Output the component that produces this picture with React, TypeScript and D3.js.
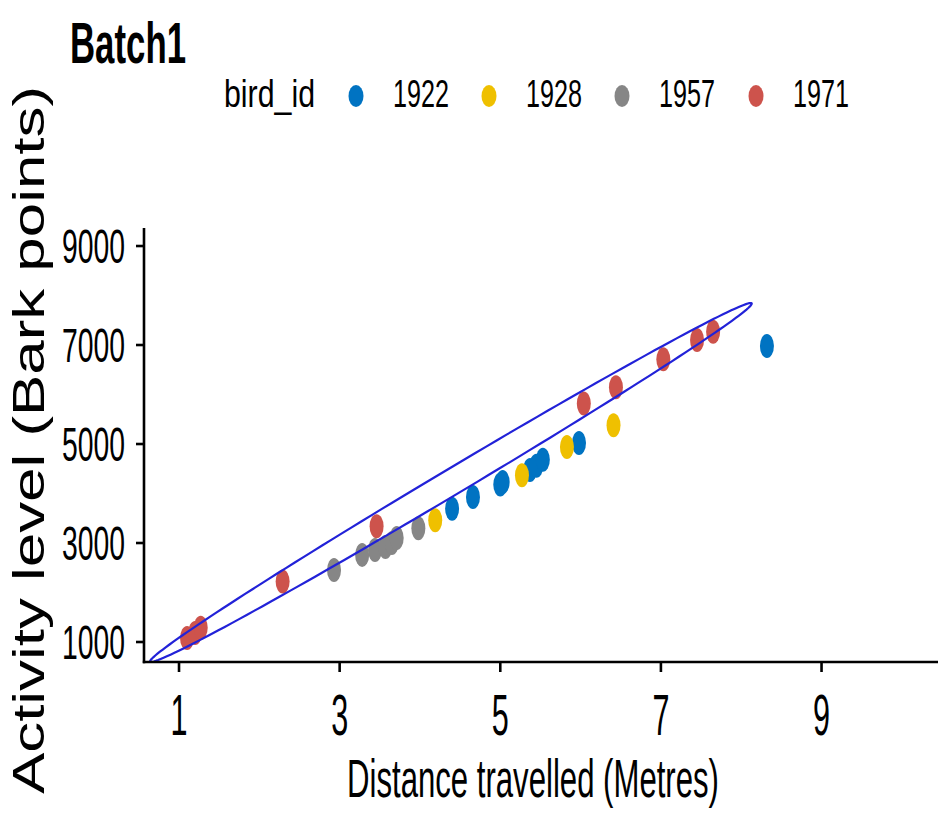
import React from "react";
import * as d3 from "d3";

const birdIds = ["1922", "1928", "1957", "1971"];
const birdColors = ["#0073C2", "#EFC000", "#868686", "#CD534C"];

const distance1922 = [4.40, 4.66, 5.0, 5.03, 5.37, 5.45, 5.53, 5.98, 8.32];
const activity1922 = [3690, 3930, 4180, 4230, 4475, 4560, 4680, 5020, 6980];
const distance1928 = [4.19, 5.27, 5.83, 6.41];
const activity1928 = [3460, 4370, 4940, 5380];
const distance1957 = [2.93, 3.28, 3.44, 3.57, 3.65, 3.71, 3.98];
const activity1957 = [2455, 2760, 2860, 2920, 3000, 3100, 3300];
const distance1971 = [1.10, 1.20, 1.27, 2.29, 3.46, 6.04, 6.44, 7.03, 7.45, 7.65];
const activity1971 = [1080, 1180, 1290, 2220, 3340, 5820, 6145, 6710, 7100, 7270];

const xTicks = [1, 3, 5, 7, 9];
const yTicks = [1000, 3000, 5000, 7000, 9000];

// ellipse (data units): centre, semi-major vector, semi-minor vector
const ellipseCenter = [4.385, 4222];
const ellipseMajor = [3.745, 3620];
const ellipseMinor = [0.082, -224];

const title = "Batch1";
const legendTitle = "bird_id";
const xTitle = "Distance travelled (Metres)";
const yTitle = "Activity level (Bark points)";

const series = [
  { id: birdIds[0], xs: distance1922, ys: activity1922, color: birdColors[0] },
  { id: birdIds[1], xs: distance1928, ys: activity1928, color: birdColors[1] },
  { id: birdIds[2], xs: distance1957, ys: activity1957, color: birdColors[2] },
  { id: birdIds[3], xs: distance1971, ys: activity1971, color: birdColors[3] },
];

const W = 938;
const H = 818;
const panel = { left: 144, right: 938, top: 228, bottom: 662 };
const FONT = "'Liberation Sans', Arial, sans-serif";

export default function App() {
  const x = d3.scaleLinear().domain([0.564, 10.45]).range([panel.left, panel.right]);
  const y = d3.scaleLinear().domain([596, 9364]).range([panel.bottom, panel.top]);

  const ellipsePts: [number, number][] = d3.range(0, 361, 2).map((deg) => {
    const t = (deg * Math.PI) / 180;
    const vx = ellipseCenter[0] + ellipseMajor[0] * Math.cos(t) + ellipseMinor[0] * Math.sin(t);
    const vy = ellipseCenter[1] + ellipseMajor[1] * Math.cos(t) + ellipseMinor[1] * Math.sin(t);
    return [x(vx), y(vy)];
  });
  const ellipsePath = d3.line().curve(d3.curveLinearClosed)(ellipsePts) || "";

  const legendDotX = [356, 489, 622, 756];

  return (
    <svg width={W} height={H} style={{ position: "absolute", left: 0, top: 0, background: "#fff" }}>
      <defs>
        <clipPath id="panelClip">
          <rect x={panel.left} y={panel.top - 20} width={panel.right - panel.left} height={panel.bottom - panel.top + 20} />
        </clipPath>
      </defs>
      <rect x={0} y={0} width={W} height={H} fill="#fff" />

      {/* title */}
      <text x={70} y={63} fontFamily={FONT} fontWeight="bold" fontSize={58} textLength={116} lengthAdjust="spacingAndGlyphs" fill="#000">
        {title}
      </text>

      {/* legend */}
      <text x={224} y={107} fontFamily={FONT} fontSize={38} textLength={91} lengthAdjust="spacingAndGlyphs" fill="#000">
        {legendTitle}
      </text>
      {series.map((s, i) => (
        <g key={s.id}>
          <ellipse cx={legendDotX[i]} cy={96} rx={7.5} ry={11} fill={s.color} />
          <text x={legendDotX[i] + 37} y={107} fontFamily={FONT} fontSize={38} textLength={56} lengthAdjust="spacingAndGlyphs" fill="#000">
            {s.id}
          </text>
        </g>
      ))}

      {/* points */}
      <g clipPath="url(#panelClip)">
        {series.map((s) =>
          s.xs.map((v, j) => (
            <ellipse key={s.id + "-" + j} cx={x(v)} cy={y(s.ys[j])} rx={7} ry={12} fill={s.color} />
          ))
        )}
        <path d={ellipsePath} fill="none" stroke="#2222D8" strokeWidth={2.2} />
      </g>

      {/* axes */}
      <line x1={panel.left} x2={panel.left} y1={panel.top} y2={panel.bottom + 1.2} stroke="#000" strokeWidth={2.6} />
      <line x1={panel.left - 1.2} x2={panel.right} y1={panel.bottom} y2={panel.bottom} stroke="#000" strokeWidth={2.6} />

      {yTicks.map((t) => (
        <g key={"y" + t}>
          <line x1={panel.left - 8} x2={panel.left} y1={y(t)} y2={y(t)} stroke="#000" strokeWidth={2.6} />
          <text x={125} y={y(t) + 17} textAnchor="end" fontFamily={FONT} fontSize={48} textLength={63} lengthAdjust="spacingAndGlyphs" fill="#000">
            {String(t)}
          </text>
        </g>
      ))}
      {xTicks.map((t) => (
        <g key={"x" + t}>
          <line x1={x(t)} x2={x(t)} y1={panel.bottom} y2={panel.bottom + 10} stroke="#000" strokeWidth={2.6} />
          <text x={x(t)} y={735} textAnchor="middle" fontFamily={FONT} fontSize={57} textLength={17} lengthAdjust="spacingAndGlyphs" fill="#000">
            {String(t)}
          </text>
        </g>
      ))}

      {/* axis titles */}
      <text transform="translate(533,797) scale(0.5875,1)" textAnchor="middle" fontFamily={FONT} fontSize={53} fill="#000">
        {xTitle}
      </text>
      <text transform="translate(44,440) rotate(-90)" textAnchor="middle" fontFamily={FONT} fontSize={44} textLength={708} lengthAdjust="spacingAndGlyphs" fill="#000">
        {yTitle}
      </text>
    </svg>
  );
}
